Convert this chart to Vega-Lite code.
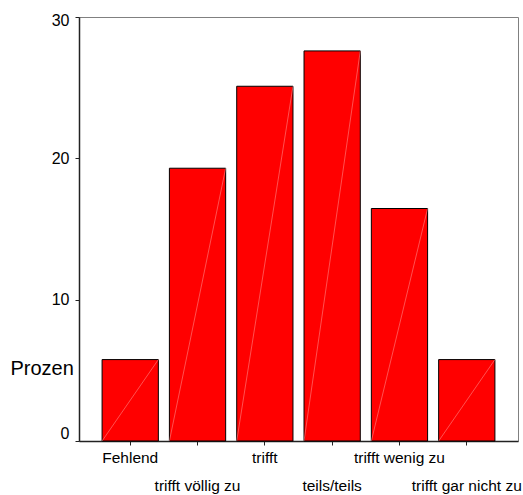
{
  "$schema": "https://vega.github.io/schema/vega-lite/v6.json",
  "width": 439,
  "height": 424,
  "autosize": {"type": "none"},
  "padding": {"left": 79, "top": 17, "right": 5, "bottom": 54},
  "background": "white",
  "config": {
    "view": {"stroke": "#808080", "strokeWidth": 1},
    "font": "Liberation Sans"
  },
  "data": {
    "values": [
      {"kategorie": "Fehlend", "prozent": 5.76},
      {"kategorie": "trifft völlig zu", "prozent": 19.3},
      {"kategorie": "trifft", "prozent": 25.1},
      {"kategorie": "teils/teils", "prozent": 27.6},
      {"kategorie": "trifft wenig zu", "prozent": 16.45},
      {"kategorie": "trifft gar nicht zu", "prozent": 5.76}
    ]
  },
  "encoding": {
    "x": {
      "field": "kategorie",
      "type": "nominal",
      "sort": null,
      "scale": {"paddingInner": 0.164, "paddingOuter": 0.343},
      "axis": {
        "title": null,
        "labelAngle": 0,
        "labelFont": "Liberation Sans",
        "labelFontSize": 15.5,
        "labelColor": "black",
        "labelLineHeight": 28,
        "labelPadding": 5,
        "tickSize": 4,
        "tickColor": "#222",
        "domainColor": "#222",
        "domainWidth": 1.5,
        "labelExpr": "indexof(['trifft völlig zu','teils/teils','trifft gar nicht zu'], datum.value) >= 0 ? ['', datum.label] : datum.label"
      }
    }
  },
  "layer": [
    {
      "mark": {"type": "bar", "color": "#ff0000", "stroke": "black", "strokeWidth": 1},
      "encoding": {
        "y": {
          "field": "prozent",
          "type": "quantitative",
          "scale": {"domain": [0, 30], "nice": false},
          "axis": {
            "values": [0, 10, 20, 30],
            "grid": false,
            "labelFont": "Liberation Sans",
            "labelFontSize": 16,
            "labelColor": "black",
            "labelFlush": true,
            "labelOffset": {"condition": {"test": "datum.value === 30", "value": -5}, "value": 0},
            "labelPadding": 6,
            "tickSize": 4,
            "tickColor": "#222",
            "domainColor": "#222",
            "domainWidth": 1.5,
            "title": "Prozen",
            "titleAngle": 0,
            "titleFont": "Liberation Sans",
            "titleFontSize": 20,
            "titleFontWeight": "normal",
            "titleColor": "black",
            "titleAlign": "left",
            "titleBaseline": "alphabetic",
            "titleX": -69,
            "titleY": 357
          }
        }
      }
    },
    {
      "mark": {"type": "rule", "color": "#ffa0a0", "strokeWidth": 0.5},
      "encoding": {
        "x": {"field": "kategorie", "type": "nominal", "sort": null, "bandPosition": 1},
        "x2": {"field": "kategorie", "bandPosition": 0},
        "y": {"field": "prozent", "type": "quantitative"},
        "y2": {"datum": 0}
      }
    }
  ]
}
